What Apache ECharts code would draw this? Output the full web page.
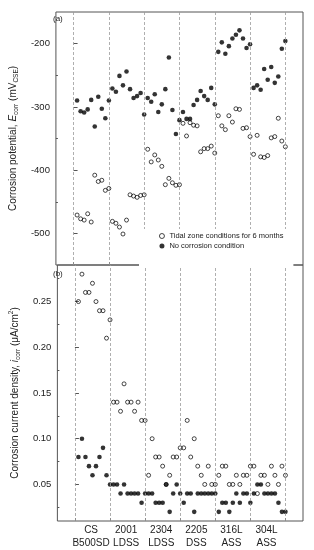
<!DOCTYPE html>
<html><head><meta charset="utf-8">
<script src="https://cdn.jsdelivr.net/npm/echarts@6/dist/echarts.min.js"></script>
<style>html,body{margin:0;padding:0;background:#fff}#c{width:314px;height:550px}</style>
</head><body><div id="c"></div>
<script>
// ---------- data ----------
const categories = ['CS\nB500SD', '2001\nLDSS', '2304\nLDSS', '2205\nDSS', '316L\nASS', '304L\nASS'];
const groupBounds = [0, 10, 20, 30, 40, 50, 60];
const groupLabelPos = [4.6, 14.6, 24.6, 34.6, 44.6, 54.6];
const seriesNames = ['Tidal zone conditions for 6 months', 'No corrosion condition'];

const ecorrTicks = [-500, -400, -300, -200];
const ecorrMinorTicks = [-450, -350, -250];
const icorrTicks = [0.05, 0.10, 0.15, 0.20, 0.25];
const icorrMinorTicks = [0.025, 0.075, 0.125, 0.175, 0.225, 0.275];

const ecorrTidal = [
  -471, -477, -479, -469, -482, -408, -418, -416, -432, -429,
  -481, -484, -490, -501, -479, -439, -441, -443, -440, -439,
  -367, -387, -376, -384, -394, -423, -413, -420, -424, -423,
  -326, -346, -325, -329, -330, -371, -366, -366, -362, -373,
  -314, -330, -336, -314, -324, -303, -304, -334, -333, -347,
  -375, -345, -379, -380, -377, -349, -347, -318, -354, -363
];
const ecorrNoCorr = [
  -290, -307, -309, -304, -289, -331, -284, -303, -318, -290,
  -271, -276, -251, -266, -244, -272, -286, -283, -278, -312,
  -286, -292, -280, -308, -296, -272, -222, -305, -343, -321,
  -308, -319, -319, -297, -289, -275, -283, -289, -270, -296,
  -213, -198, -216, -204, -192, -186, -179, -192, -207, -201,
  -270, -266, -273, -240, -257, -237, -262, -252, -208, -196
];
const icorrTidal = [
  0.25, 0.28, 0.26, 0.26, 0.27, 0.25, 0.24, 0.24, 0.21, 0.23,
  0.14, 0.14, 0.13, 0.16, 0.14, 0.14, 0.13, 0.14, 0.12, 0.12,
  0.06, 0.10, 0.08, 0.08, 0.07, 0.05, 0.06, 0.08, 0.08, 0.09,
  0.09, 0.12, 0.08, 0.10, 0.07, 0.06, 0.05, 0.07, 0.05, 0.05,
  0.06, 0.07, 0.07, 0.05, 0.05, 0.06, 0.05, 0.06, 0.06, 0.07,
  0.07, 0.04, 0.06, 0.06, 0.05, 0.07, 0.06, 0.05, 0.07, 0.06
];
const icorrNoCorr = [
  0.08, 0.10, 0.08, 0.07, 0.06, 0.07, 0.08, 0.09, 0.06, 0.05,
  0.05, 0.05, 0.04, 0.05, 0.04, 0.04, 0.04, 0.04, 0.03, 0.04,
  0.04, 0.04, 0.03, 0.03, 0.03, 0.05, 0.02, 0.04, 0.05, 0.04,
  0.03, 0.04, 0.04, 0.02, 0.04, 0.04, 0.04, 0.04, 0.04, 0.04,
  0.02, 0.03, 0.03, 0.02, 0.03, 0.04, 0.03, 0.04, 0.04, 0.03,
  0.04, 0.05, 0.05, 0.04, 0.04, 0.04, 0.04, 0.03, 0.02, 0.02
];

// ---------- chart ----------
const FONT = '"Liberation Sans", Arial, sans-serif';
const TXT = '#222';
const FRAME = '#555';
const toXY = arr => arr.map((v, i) => [i + 1, v]);

const chart = echarts.init(document.getElementById('c'), null, { renderer: 'canvas' });

const boundaryLines = {
  silent: true, symbol: 'none', label: { show: false },
  lineStyle: { type: [3, 2], color: '#9a9a9a', width: 0.8 },
  data: groupBounds.map(b => ({ xAxis: b }))
};

function xAxisDef(gi, showLabels) {
  return {
    type: 'value', gridIndex: gi, min: -5, max: 65,
    axisLine: { show: false },
    splitLine: { show: false },
    axisTick: { show: true, inside: true, length: 3, customValues: groupBounds, lineStyle: { color: FRAME } },
    axisLabel: showLabels ? {
      show: true, customValues: groupLabelPos, margin: 3,
      fontFamily: FONT, fontSize: 10, color: TXT, lineHeight: 13,
      formatter: v => categories[Math.round((v - 4.6) / 10)] || ''
    } : { show: false }
  };
}

const nameRich = {
  t: { fontFamily: FONT, fontSize: 10, color: TXT, lineHeight: 14, verticalAlign: 'middle' },
  i: { fontFamily: FONT, fontSize: 10, color: TXT, fontStyle: 'italic', lineHeight: 14, verticalAlign: 'middle' },
  s: { fontFamily: FONT, fontSize: 6.5, color: TXT, lineHeight: 9, verticalAlign: 'bottom' },
  p: { fontFamily: FONT, fontSize: 6.5, color: TXT, lineHeight: 9, verticalAlign: 'top' }
};

const option = {
  backgroundColor: '#fff',
  animation: false,
  grid: [
    { left: 49, top: 12, width: 254, height: 253, show: true, borderColor: FRAME, borderWidth: 1, backgroundColor: 'transparent' },
    { left: 49, top: 265, width: 254, height: 256, show: true, borderColor: FRAME, borderWidth: 1, backgroundColor: 'transparent' }
  ],
  xAxis: [xAxisDef(0, false), xAxisDef(1, true)],
  yAxis: [
    {
      type: 'value', gridIndex: 0, min: -550, max: -150, position: 'left',
      axisLine: { show: false }, splitLine: { show: false },
      axisTick: { show: true, inside: true, length: 4, customValues: ecorrTicks, lineStyle: { color: FRAME } },
      axisLabel: { show: true, customValues: ecorrTicks, margin: 6, fontFamily: FONT, fontSize: 9.5, color: TXT },
      name: '{t|Corrosion potential, }{i|E}{s|corr}{t| (mV}{s|CSE}{t|)}',
      nameLocation: 'middle', nameRotate: 90, nameGap: 31,
      nameTextStyle: { rich: nameRich }
    },
    {
      type: 'value', gridIndex: 0, min: -550, max: -150, position: 'left', offset: 0,
      axisLine: { show: false }, splitLine: { show: false },
      axisTick: { show: true, inside: true, length: 2, customValues: ecorrMinorTicks, lineStyle: { color: FRAME } },
      axisLabel: { show: false }
    },
    {
      type: 'value', gridIndex: 1, min: 0.01, max: 0.29, position: 'left',
      axisLine: { show: false }, splitLine: { show: false },
      axisTick: { show: true, inside: true, length: 4, customValues: icorrTicks, lineStyle: { color: FRAME } },
      axisLabel: { show: true, customValues: icorrTicks, margin: 6, fontFamily: FONT, fontSize: 9.5, color: TXT,
        formatter: v => Number(v).toFixed(2) },
      name: '{t|Corrosion current density, }{i|i}{s|corr}{t| (μA/cm}{p|2}{t|)}',
      nameLocation: 'middle', nameRotate: 90, nameGap: 31,
      nameTextStyle: { rich: nameRich }
    },
    {
      type: 'value', gridIndex: 1, min: 0.01, max: 0.29, position: 'left', offset: 0,
      axisLine: { show: false }, splitLine: { show: false },
      axisTick: { show: true, inside: true, length: 2, customValues: icorrMinorTicks, lineStyle: { color: FRAME } },
      axisLabel: { show: false }
    }
  ],
  legend: {
    data: [
      { name: seriesNames[0], icon: 'circle', itemStyle: { color: '#fff', borderColor: '#000', borderWidth: 0.9 } },
      { name: seriesNames[1], icon: 'circle', itemStyle: { color: '#000', borderWidth: 0 } }
    ],
    orient: 'vertical',
    left: 139, top: 229,
    padding: [3, 10, 17, 20],
    backgroundColor: '#fff',
    itemWidth: 5, itemHeight: 5, itemGap: 2,
    selectedMode: false,
    textStyle: { fontFamily: FONT, fontSize: 7.5, color: TXT, lineHeight: 8 },
    z: 10
  },
  graphic: [
    { type: 'text', left: 53, top: 15, style: { text: '(a)', fontFamily: FONT, fontSize: 8, fill: TXT } },
    { type: 'text', left: 53, top: 270, style: { text: '(b)', fontFamily: FONT, fontSize: 8, fill: TXT } }
  ],
  series: [
    {
      name: seriesNames[1], type: 'scatter', xAxisIndex: 0, yAxisIndex: 0,
      symbol: 'circle', symbolSize: 4.6,
      itemStyle: { color: '#000' },
      data: toXY(ecorrNoCorr), markLine: boundaryLines, z: 3
    },
    {
      name: seriesNames[0], type: 'scatter', xAxisIndex: 0, yAxisIndex: 0,
      symbol: 'circle', symbolSize: 4,
      itemStyle: { color: 'rgba(255,255,255,0)', borderColor: '#000', borderWidth: 0.9 },
      data: toXY(ecorrTidal), z: 3
    },
    {
      name: seriesNames[1], type: 'scatter', xAxisIndex: 1, yAxisIndex: 2,
      symbol: 'circle', symbolSize: 4.6,
      itemStyle: { color: '#000' },
      data: toXY(icorrNoCorr), markLine: boundaryLines, z: 3
    },
    {
      name: seriesNames[0], type: 'scatter', xAxisIndex: 1, yAxisIndex: 2,
      symbol: 'circle', symbolSize: 4,
      itemStyle: { color: 'rgba(255,255,255,0)', borderColor: '#000', borderWidth: 0.9 },
      data: toXY(icorrTidal), z: 3
    }
  ]
};
chart.setOption(option);
</script>
</body></html>
